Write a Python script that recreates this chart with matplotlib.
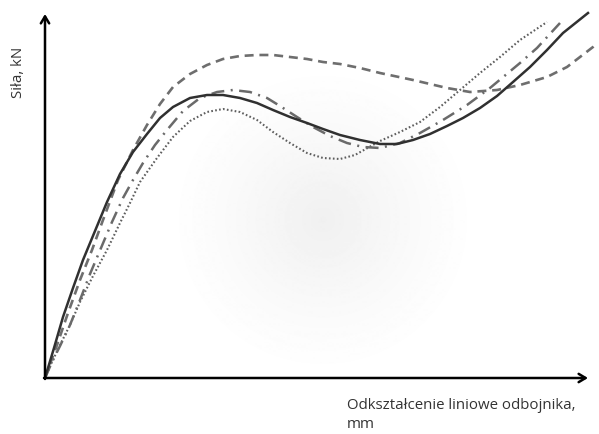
import numpy as np
import matplotlib.pyplot as plt

# values (arbitrary units: deflection vs force)
solid_x = [0, 9, 18, 28, 38, 50, 62, 75, 88, 102, 115, 128, 145, 162, 178, 195, 212, 228,
           245, 262, 278, 295, 315, 335, 352, 368, 385, 402, 418, 435, 452, 468, 485, 502, 518, 543]
solid_y = [0, 30, 61, 90, 118, 147, 176, 204, 226, 244, 260, 271, 280, 283, 283, 280, 275, 268,
           261, 255, 249, 243, 238, 234, 234, 238, 244, 252, 260, 270, 282, 296, 311, 328, 345, 365]

dashed_x = [0, 12, 23, 35, 47, 58, 73, 88, 102, 115, 128, 145, 162, 178, 195, 212, 228,
            245, 262, 278, 295, 315, 335, 368, 402, 425, 452, 475, 502, 522, 535, 548, 552]
dashed_y = [0, 33, 65, 98, 128, 158, 198, 228, 253, 274, 291, 304, 313, 319, 322, 323, 323,
            321, 319, 316, 314, 310, 305, 298, 290, 286, 288, 293, 301, 311, 321, 331, 335]

dashdot_x = [0, 7, 15, 25, 35, 45, 56, 67, 78, 88, 98, 110, 122, 138, 155, 172, 188, 205,
             222, 235, 252, 268, 285, 302, 318, 335, 355, 375, 398, 422, 445, 475, 492, 515]
dashdot_y = [0, 16, 32, 53, 78, 104, 130, 156, 180, 198, 215, 233, 248, 267, 280, 286, 288, 286,
             280, 272, 261, 251, 242, 235, 231, 230, 235, 245, 258, 273, 290, 315, 330, 355]

dotted_x = [0, 7, 15, 25, 35, 48, 62, 75, 85, 95, 112, 128, 145, 162, 178, 195, 212, 228,
            245, 262, 278, 295, 310, 335, 355, 375, 395, 415, 435, 455, 475, 502]
dotted_y = [0, 16, 33, 53, 76, 102, 128, 155, 175, 196, 220, 241, 257, 266, 269, 266, 258, 246,
            235, 225, 220, 219, 223, 237, 246, 256, 271, 288, 305, 321, 338, 356]

y_label = "Siła, kN"
x_label = "Odkształcenie liniowe odbojnika,\nmm"

fig = plt.figure(figsize=(5.99, 4.34), dpi=100)
ax = fig.add_axes([0, 0, 1, 1])
ax.set_xlim(-45, 554)
ax.set_ylim(-56, 378)
ax.axis("off")

# soft radial shading behind the curves
gx, gy = np.meshgrid(np.linspace(-45, 554, 600), np.linspace(-56, 378, 435))
r = np.sqrt((gx - 278) ** 2 + (gy - 158) ** 2) / 160
shade = 1 - 0.06 * np.clip(1 - r, 0, 1) ** 1.2
ax.imshow(shade, extent=(-45, 554, -56, 378), origin="lower", cmap="gray",
          vmin=0, vmax=1, aspect="auto", zorder=0, interpolation="bilinear")

ax.plot(dashed_x, dashed_y, color="#6e6e6e", lw=1.9, dashes=(3.4, 2.2), zorder=2)
ax.plot(dotted_x, dotted_y, color="#5e5e5e", lw=1.5, dashes=(0.8, 1.1), zorder=2)
ax.plot(dashdot_x, dashdot_y, color="#6a6a6a", lw=1.8, dashes=(5.2, 2.6, 0.8, 2.6), zorder=2)
ax.plot(solid_x, solid_y, color="#303030", lw=1.8, zorder=3)

# axes drawn as arrows
arrow = dict(arrowstyle="->,head_length=0.5,head_width=0.3", color="black", lw=1.8,
             shrinkA=0, shrinkB=0)
ax.annotate("", xy=(543, 0), xytext=(-1, 0), arrowprops=arrow, zorder=4)
ax.annotate("", xy=(0, 364), xytext=(0, -1), arrowprops=arrow, zorder=4)

ax.text(-26, 306, y_label, rotation=90, ha="center", va="center",
        fontsize=10.8, color="#333333", family="Open Sans")
ax.text(302, -20, x_label, ha="left", va="top", fontsize=10.8, color="#333333",
        family="Open Sans", linespacing=1.35)

fig.savefig("out.png", dpi=100)
